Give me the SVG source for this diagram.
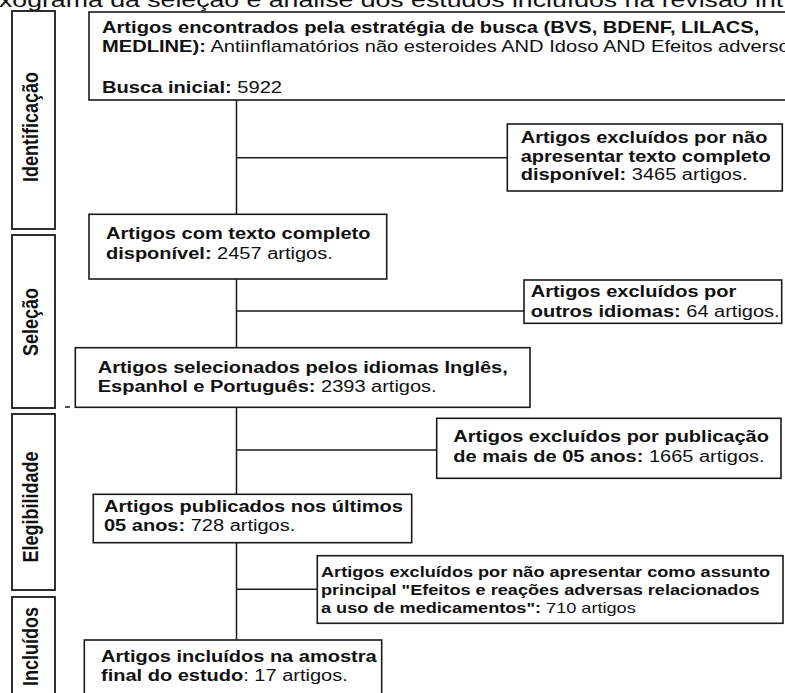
<svg xmlns="http://www.w3.org/2000/svg" width="785" height="693" viewBox="0 0 785 693">
<defs>
<style>
.bg{fill:#ffffff}
.box{fill:#ffffff;stroke:#1a1a1a;stroke-width:1.6}
.side{fill:#ffffff;stroke:#1a1a1a;stroke-width:1.8}
.con{stroke:#1a1a1a;stroke-width:1.5;fill:none}
.t{font-family:"Liberation Sans",Arial,sans-serif;font-size:16px;fill:#111111}
.t15{font-family:"Liberation Sans",Arial,sans-serif;font-size:14.5px;fill:#111111}
.b{font-weight:bold}
.lbl{font-family:"Liberation Sans",Arial,sans-serif;font-size:18px;font-weight:bold;fill:#111111}
.title{font-family:"Liberation Sans",Arial,sans-serif;font-size:21px;fill:#111111}
</style>
</defs>
<rect class="bg" x="0" y="0" width="785" height="693"/>
<text class="title" transform="translate(-1,7) scale(1.27,1)" x="0" y="0">xograma da seleção e análise dos estudos incluídos na revisão int</text>

<g id="connectors">
<line class="con" x1="236.5" y1="100" x2="236.5" y2="214.3"/>
<line class="con" x1="236.5" y1="157.7" x2="507.3" y2="157.7"/>
<line class="con" x1="236.5" y1="279" x2="236.5" y2="347.7"/>
<line class="con" x1="236.5" y1="311" x2="524" y2="311"/>
<line class="con" x1="236.5" y1="407.3" x2="236.5" y2="494.3"/>
<line class="con" x1="236.5" y1="450" x2="436.7" y2="450"/>
<line class="con" x1="236.5" y1="542.7" x2="236.5" y2="640"/>
<line class="con" x1="236.5" y1="589.3" x2="317.3" y2="589.3"/>
<line class="con" x1="65" y1="407" x2="70" y2="407"/>
</g>

<g id="stage-identificacao">
<rect class="side" x="12" y="11" width="43" height="218"/>
<text class="lbl" transform="translate(38,127) rotate(-90) scale(1,1.25)" text-anchor="middle">Identificação</text>
</g>
<g id="stage-selecao">
<rect class="side" x="12" y="235" width="43" height="173"/>
<text class="lbl" transform="translate(38,322) rotate(-90) scale(1,1.25)" text-anchor="middle">Seleção</text>
</g>
<g id="stage-elegibilidade">
<rect class="side" x="12" y="414" width="43" height="176"/>
<text class="lbl" transform="translate(38,507) rotate(-90) scale(1,1.25)" text-anchor="middle">Elegibilidade</text>
</g>
<g id="stage-incluidos">
<rect class="side" x="12" y="597" width="43" height="110"/>
<text class="lbl" transform="translate(38,607) rotate(-90) scale(1,1.25)" text-anchor="end">Incluídos</text>
</g>

<g id="n1">
<rect class="box" x="89" y="12" width="720" height="88"/>
<text class="t" transform="translate(102,0) scale(1.258,1)">
<tspan class="b" x="0" y="33.3">Artigos encontrados pela estratégia de busca (BVS, BDENF, LILACS,</tspan>
<tspan class="b" x="0" y="51.7">MEDLINE):</tspan><tspan> Antiinflamatórios não esteroides AND Idoso AND Efeitos adversos</tspan>
<tspan class="b" x="0" y="92.7">Busca inicial:</tspan><tspan> 5922</tspan>
</text>
</g>

<g id="n2">
<rect class="box" x="507.3" y="124" width="275" height="67"/>
<text class="t" transform="translate(520.7,0) scale(1.25,1)">
<tspan class="b" x="0" y="143.3">Artigos excluídos por não</tspan>
<tspan class="b" x="0" y="161.7">apresentar texto completo</tspan>
<tspan class="b" x="0" y="180">disponível:</tspan><tspan> 3465 artigos.</tspan>
</text>
</g>

<g id="n3">
<rect class="box" x="89" y="214.3" width="297.7" height="64.7"/>
<text class="t" transform="translate(106,0) scale(1.25,1)">
<tspan class="b" x="0" y="239.3">Artigos com texto completo</tspan>
<tspan class="b" x="0" y="259">disponível:</tspan><tspan> 2457 artigos.</tspan>
</text>
</g>

<g id="n4">
<rect class="box" x="524" y="280" width="257.7" height="43.3"/>
<text class="t" transform="translate(530.7,0) scale(1.25,1)">
<tspan class="b" x="0" y="297.3">Artigos excluídos por</tspan>
<tspan class="b" x="0" y="316.7">outros idiomas:</tspan><tspan> 64 artigos.</tspan>
</text>
</g>

<g id="n5">
<rect class="box" x="75.3" y="347.7" width="454.7" height="59.6"/>
<text class="t" transform="translate(97.7,0) scale(1.25,1)">
<tspan class="b" x="0" y="372.7">Artigos selecionados pelos idiomas Inglês,</tspan>
<tspan class="b" x="0" y="392">Espanhol e Português:</tspan><tspan> 2393 artigos.</tspan>
</text>
</g>

<g id="n6">
<rect class="box" x="436.7" y="418.3" width="344.3" height="60"/>
<text class="t" transform="translate(453.3,0) scale(1.25,1)">
<tspan class="b" x="0" y="441.7">Artigos excluídos por publicação</tspan>
<tspan class="b" x="0" y="462.3">de mais de 05 anos:</tspan><tspan> 1665 artigos.</tspan>
</text>
</g>

<g id="n7">
<rect class="box" x="93.3" y="494.3" width="318.4" height="48.4"/>
<text class="t" transform="translate(104,0) scale(1.25,1)">
<tspan class="b" x="0" y="511.7">Artigos publicados nos últimos</tspan>
<tspan class="b" x="0" y="530.7">05 anos:</tspan><tspan> 728 artigos.</tspan>
</text>
</g>

<g id="n8">
<rect class="box" x="317.3" y="555.7" width="465.7" height="67.6"/>
<text class="t15" transform="translate(321,0) scale(1.25,1)">
<tspan class="b" x="0" y="576.7">Artigos excluídos por não apresentar como assunto</tspan>
<tspan class="b" x="0" y="595">principal "Efeitos e reações adversas relacionados</tspan>
<tspan class="b" x="0" y="613.3">a uso de medicamentos":</tspan><tspan> 710 artigos</tspan>
</text>
</g>

<g id="n9">
<rect class="box" x="84.3" y="640" width="297.4" height="70"/>
<text class="t" transform="translate(101,0) scale(1.25,1)">
<tspan class="b" x="0" y="661.7">Artigos incluídos na amostra</tspan>
<tspan class="b" x="0" y="680.7">final do estudo</tspan><tspan>: 17 artigos.</tspan>
</text>
</g>
</svg>
